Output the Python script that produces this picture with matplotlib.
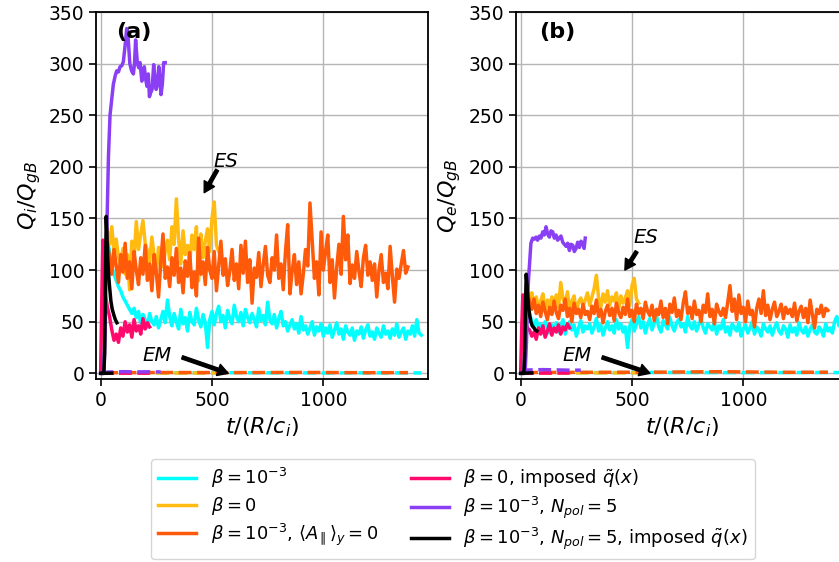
import numpy as np
import matplotlib.pyplot as plt

# ---------------------------------------------------------------
# heat fluxes, sampled every 10 R/c_i (short runs on their own grid)
t_cyan = np.arange(0, 1450, 10)
t_orange = np.arange(20, 1390, 10)
t_yellow = np.arange(30, 540, 10)
t_pink = [0, 5, 10, 15, 20, 30, 40, 50, 60, 70, 80, 90, 100, 110, 120,
          130, 140, 150, 160, 170, 180, 190, 200, 210, 220]
t_black = [0, 14, 18, 22, 25, 28, 32, 36, 40, 46, 52, 60, 66, 73]
t_purple_a = [0, 10, 15, 20, 25, 30, 35, 42, 50, 57, 65, 72, 80, 87, 95, 102,
              110, 117, 124, 131, 139, 147, 152, 157, 165, 171, 177, 185, 190,
              196, 202, 208, 214, 219, 225, 231, 238, 244, 249, 255, 261, 266,
              271, 277, 283, 290]
t_purple_b = [0, 20, 26, 31, 35, 39, 46, 54, 62, 69, 76, 84, 91, 99, 106, 114,
              121, 129, 136, 144, 151, 159, 166, 174, 181, 189, 196, 204, 211,
              219, 226, 234, 241, 249, 256, 264, 271, 279, 285, 290]

# ion heat flux Q_i (ES part)
qi_cyan = [0, 45, 112, 128, 118, 102, 96, 90, 84, 80, 74, 70, 66, 62, 58, 63,
           54, 60, 48, 57, 52, 45, 58, 50, 47, 55, 44, 52, 60, 49, 71,
           55, 46, 58, 50, 43, 62, 48, 54, 41, 59, 50, 47, 63, 52, 45, 57, 49, 25,
           52, 60, 47, 58, 65, 50, 56, 44, 61, 53, 48, 66, 55, 50, 59, 46, 62, 54, 49, 58, 52, 45,
           63, 51, 56, 47, 69, 52, 48, 57, 44, 53, 60, 46, 50, 41, 47,
           52, 43, 48, 39, 55, 42, 46, 38, 44, 50, 37, 45, 41, 48, 36,
           44, 39, 47, 35, 42, 49, 38, 43, 33, 46, 40, 37, 44, 32, 41,
           38, 45, 34, 42, 47, 36, 40, 33, 44, 39, 35, 46, 38, 41, 34,
           43, 37, 48, 35, 40, 44, 33, 41, 38, 46, 36, 52, 39, 37]
qi_yellow = [138, 125, 142, 118, 130, 112, 106, 121, 96, 115, 81, 128, 110,
             147, 120, 135, 148, 126, 119, 108, 132, 114, 98, 122, 105, 103,
             118, 129, 110, 142, 125, 169, 130, 106, 138, 115, 124, 108, 134,
             120, 142, 90, 135, 112, 128, 140, 118, 150, 166, 124, 118]
qi_orange = [95, 128, 112, 96, 120, 104, 88, 115, 98, 126, 92, 108, 82, 118,
             100, 86, 112, 96, 124, 90, 106, 80, 115, 97, 74, 108, 135, 92, 103,
             84, 112, 95, 121, 88, 102, 78, 109, 94, 117, 83, 98, 75, 131, 96,
             108, 86, 122, 100, 92, 118, 80, 104, 128, 95, 111, 85, 99, 120, 90,
             106, 82, 124, 97, 128, 88, 110, 68, 102, 93, 117, 84, 105, 123, 95,
             88, 112, 100, 134, 92, 106, 81, 118, 144, 77, 99, 115, 86, 108, 77,
             96, 120, 104, 165, 129, 92, 108, 76, 137, 100, 118, 134, 88, 110, 73,
             102, 125, 96, 152, 110, 134, 87, 105, 92, 118, 99, 84, 112, 124, 95,
             108, 90, 106, 74, 100, 115, 88, 97, 82, 123, 94, 69, 101, 92, 106, 119, 97, 103]
qi_pink = [0, 70, 129, 100, 78, 64, 55, 42, 32, 38, 30, 44, 36, 50, 40, 47,
           35, 52, 41, 46, 38, 53, 43, 49, 45]
qi_purple = [0, 0, 0, 40, 110, 160, 210, 250, 266, 280, 288, 293, 292, 297, 298,
             302, 318, 334, 323, 300, 293, 290, 300, 323, 300, 296, 301, 283, 292,
             297, 285, 278, 290, 268, 272, 275, 299, 285, 275, 280, 297, 285, 270,
             280, 301, 301]
qi_black = [0, 0, 20, 100, 152, 135, 110, 95, 84, 70, 62, 56, 52, 49]

# electron heat flux Q_e (ES part)
qe_cyan = [0, 30, 62, 72, 58, 50, 46, 52, 44, 48, 41, 50, 45, 39, 47, 43,
           49, 40, 46, 52, 38, 45, 50, 42, 47, 36, 44, 51, 40, 46, 43,
           48, 39, 45, 53, 41, 47, 37, 44, 50, 42, 46, 39, 52, 43, 48, 40, 45, 25,
           46, 52, 41, 48, 55, 44, 50, 39, 47, 53, 42, 49, 56, 45, 40, 51, 47, 43, 54, 46, 41, 49,
           52, 45, 48, 40, 55, 46, 43, 50, 41, 47, 53, 44, 39, 48, 45,
           42, 50, 38, 46, 43, 52, 40, 45, 37, 48, 44, 41, 49, 36, 43,
           47, 39, 44, 50, 38, 45, 42, 36, 48, 43, 40, 46, 37, 44, 49,
           41, 38, 46, 43, 35, 47, 40, 44, 37, 49, 42, 39, 45, 36, 43,
           47, 40, 38, 45, 42, 36, 48, 41, 44, 39, 50, 55, 46, 52]
qe_yellow = [82, 72, 78, 66, 74, 63, 70, 77, 60, 71, 65, 74, 68,
             76, 64, 88, 72, 67, 79, 62, 70, 75, 58, 69, 73, 65,
             71, 78, 66, 74, 82, 95, 73, 64, 77, 69, 80, 66, 74,
             70, 78, 62, 75, 68, 73, 80, 66, 85, 92, 72, 68]
qe_orange = [40, 78, 70, 62, 72, 58, 66, 55, 69, 60, 52, 64, 57, 70,
             59, 53, 66, 61, 72, 55, 63, 50, 68, 58, 62, 54, 67, 57, 60,
             52, 65, 58, 71, 55, 62, 49, 60, 66, 56, 63, 51, 68, 59, 54,
             64, 57, 72, 55, 61, 50, 67, 58, 63, 53, 69, 60, 56, 66, 51,
             62, 57, 70, 54, 63, 48, 67, 59, 73, 55, 61, 52, 68, 79, 58,
             64, 53, 70, 57, 61, 50, 66, 59, 77, 55, 62, 48, 67, 60, 56,
             63, 54, 69, 85, 60, 72, 52, 76, 58, 64, 50, 70, 57, 61, 45,
             63, 72, 58, 80, 56, 66, 52, 62, 69, 55, 60, 67, 53, 64, 58,
             62, 55, 68, 51, 60, 65, 54, 63, 49, 71, 57, 44, 62, 58, 66, 55, 63, 61]
qe_pink = [0, 45, 76, 62, 50, 44, 42, 36, 40, 33, 44, 38, 46, 35, 41, 48,
           37, 44, 40, 47, 38, 45, 42, 48, 44]
qe_purple = [0, 0, 30, 71, 90, 103, 126, 131, 130, 132, 129, 133, 131, 137, 134,
             142, 135, 132, 138, 137, 131, 134, 129, 131, 133, 127, 125, 123, 126,
             119, 125, 124, 118, 121, 127, 122, 128, 126, 121, 131]
qe_black = [0, 0, 15, 70, 96, 88, 74, 64, 57, 50, 46, 44, 42, 41]

# EM (magnetic flutter) part, sparse readings
t_em_cyan = [0, 200, 400, 600, 800, 1000, 1200, 1440]
t_em_yellow = [0, 265, 530]
t_em_orange = [20, 300, 600, 900, 1200, 1380]
t_em_pink = [0, 110, 220]
t_em_purple = [0, 30, 100, 170, 230, 270]
t_em_black = [0, 40, 73]
qi_em_cyan = [0, 0.6, 0.5, 0.7, 0.5, 0.4, 0.5, 0.4]
qi_em_yellow = [0, 0.3, 0.3]
qi_em_orange = [0.6, 0.8, 0.7, 0.9, 0.6, 0.7]
qi_em_pink = [0, 0.2, 0.2]
qi_em_purple = [0, 1.2, 1.6, 1.4, 1.5, 1.3]
qi_em_black = [0, 0.2, 0.2]
qe_em_cyan = [0, 0.8, 0.7, 0.9, 0.8, 0.7, 0.8, 0.8]
qe_em_yellow = [0, 0.5, 0.5]
qe_em_orange = [0.8, 1.0, 1.1, 1.6, 1.0, 1.1]
qe_em_pink = [0, 0.3, 0.3]
qe_em_purple = [0, 3.2, 3.6, 3.3, 3.0, 3.1]
qe_em_black = [0, 0.4, 0.4]

colors = ['#00ffff', '#ffbb0f', '#ff5a0a', '#ff0a6c', '#8a3ff5', 'black']
labels = [r'$\beta = 10^{-3}$',
          r'$\beta = 0$',
          r'$\beta = 10^{-3}$, $\langle A_\parallel \rangle_y = 0$',
          r'$\beta = 0$, imposed $\tilde{q}(x)$',
          r'$\beta = 10^{-3}$, $N_{pol} = 5$',
          r'$\beta = 10^{-3}$, $N_{pol} = 5$, imposed $\tilde{q}(x)$']

plt.rcParams['font.size'] = 13.5

fig = plt.figure(figsize=(8.39, 5.62), dpi=100)
ax_a = fig.add_axes([0.1144, 0.3256, 0.3957, 0.653])
ax_b = fig.add_axes([0.615, 0.3256, 0.3957, 0.653])

arrow = dict(facecolor='black', edgecolor='black', width=2.4, headwidth=8.5,
             headlength=7.5, shrink=0)


def draw_panel(ax, times, es, t_em, em, tag, tag_x, ylabel, es_tip, es_tail, es_pos, em_tip):
    handles = []
    for t, y, te, ye, c in zip(times, es, t_em, em, colors):
        h, = ax.plot(t, y, color=c, lw=2.5)
        ax.plot(te, ye, color=c, lw=2.5, ls='--')
        handles.append(h)
    ax.set_xlim(-21, 1470)
    ax.set_ylim(-5.5, 350)
    ax.grid(color='#b5b5b5', lw=1)
    ax.set_axisbelow(True)
    for s in ax.spines.values():
        s.set_linewidth(1.3)
    ax.tick_params(length=5, width=1.2, labelsize=13.5)
    ax.set_xlabel(r'$t/(R/c_i)$', fontsize=16)
    ax.set_ylabel(ylabel, fontsize=16)
    ax.text(tag_x, 0.946, tag, transform=ax.transAxes, ha='center', va='center',
            fontsize=16, fontweight='bold')
    # ES / EM markers with arrows
    ax.text(*es_pos, 'ES', fontsize=14, style='italic')
    ax.annotate('', xy=es_tip, xytext=es_tail, arrowprops=arrow)
    ax.text(186, 11.5, 'EM', fontsize=14, style='italic')
    ax.annotate('', xy=em_tip, xytext=(366, 15.5), arrowprops=arrow)
    return handles


times_a = [t_cyan, t_yellow, t_orange, t_pink, t_purple_a, t_black]
times_b = [t_cyan, t_yellow, t_orange, t_pink, t_purple_b, t_black]
t_em = [t_em_cyan, t_em_yellow, t_em_orange, t_em_pink, t_em_purple, t_em_black]

handles = draw_panel(ax_a, times_a,
                     [qi_cyan, qi_yellow, qi_orange, qi_pink, qi_purple, qi_black],
                     t_em,
                     [qi_em_cyan, qi_em_yellow, qi_em_orange, qi_em_pink, qi_em_purple, qi_em_black],
                     '(a)', 0.115, r'$Q_i/Q_{gB}$',
                     (465, 175), (523, 197), (505, 200), (573, 0))
draw_panel(ax_b, times_b,
           [qe_cyan, qe_yellow, qe_orange, qe_pink, qe_purple, qe_black],
           t_em,
           [qe_em_cyan, qe_em_yellow, qe_em_orange, qe_em_pink, qe_em_purple, qe_em_black],
           '(b)', 0.123, r'$Q_e/Q_{gB}$',
           (468, 100), (521, 118), (505, 126), (581, 0))

fig.legend(handles, labels, ncol=2, loc='upper left',
           bbox_to_anchor=(151 / 839, 1 - 459 / 562), borderaxespad=0,
           fontsize=13, handlelength=2.1, columnspacing=1.8, labelspacing=0.25)

fig.savefig('out.png', dpi=100)
